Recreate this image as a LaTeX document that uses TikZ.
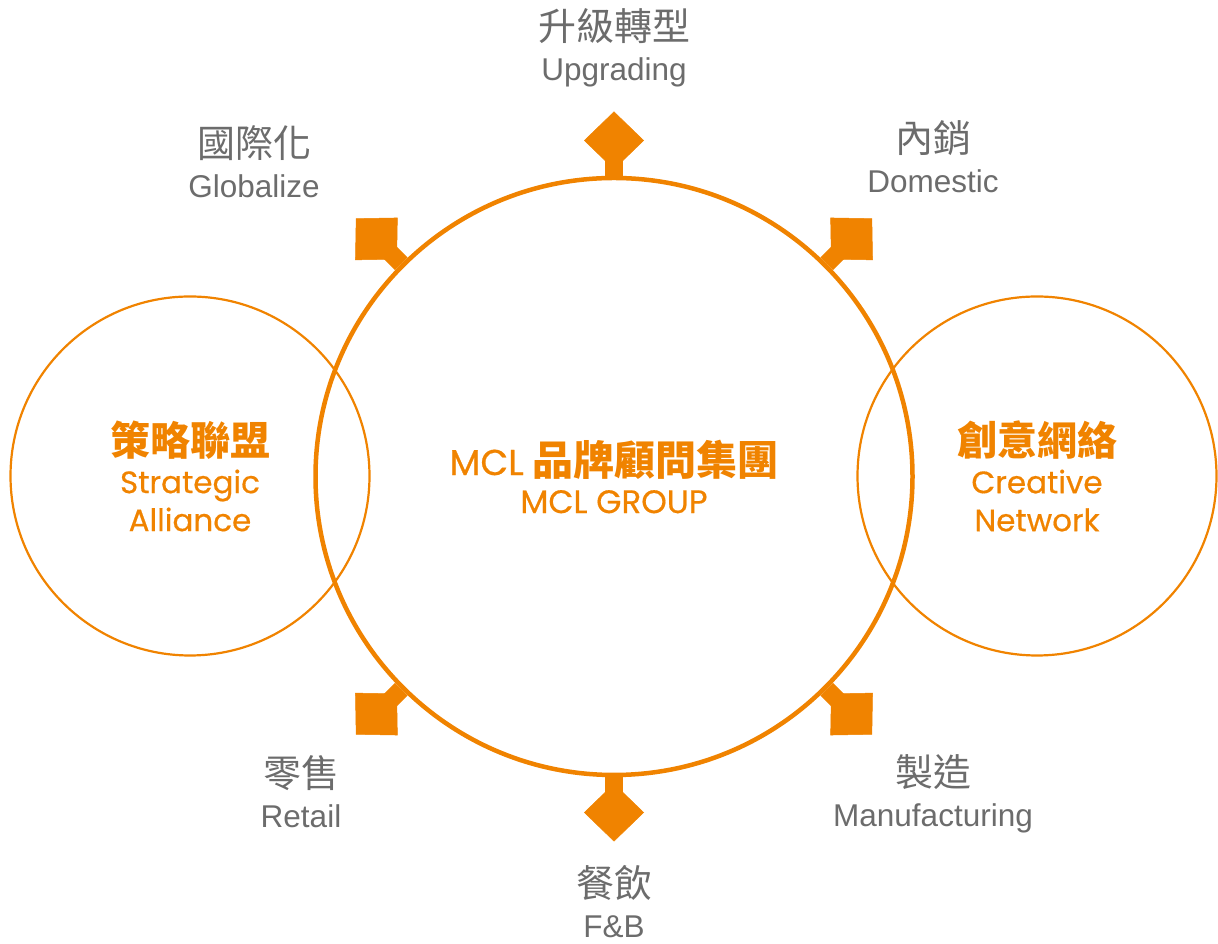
\documentclass[tikz,border=0pt]{standalone}
\usepackage{fontspec}
\setmainfont{Liberation Sans}
\newfontfamily\cjk{Noto Sans CJK TC}
\newfontfamily\geo{Poppins}[FakeBold=0.5]
\usepackage{tikz}
\usetikzlibrary{arrows.meta,positioning,calc}
\definecolor{mclorange}{RGB}{240,131,0}
\definecolor{mclgray}{RGB}{108,108,108}
\tikzstyle{hub}=[circle,draw=mclorange,line width=4.5pt,minimum size=597pt,inner sep=0pt,align=center,text=mclorange,font=\geo\fontsize{32.5}{38}\selectfont]
\tikzstyle{wing}=[circle,draw=mclorange,line width=2.2pt,minimum size=359pt,inner sep=0pt,align=center,text=mclorange,font=\geo\fontsize{31}{38}\selectfont]
\tikzstyle{shaft}=[draw=mclorange,line width=18pt,shorten >=30pt]
\tikzstyle{spoke}=[draw=mclorange,fill=mclorange,line width=0.5pt,-{Kite[length=58pt,width=60pt,inset=29pt]}]
\tikzstyle{market}=[align=center,text=mclgray,font=\fontsize{31.5}{40}\selectfont]
\newcommand{\zh}[1]{{\cjk\fontsize{38}{40}\selectfont #1}}
\newcommand{\zhb}[1]{{\cjk\bfseries\fontsize{40}{40}\selectfont #1}}

\begin{document}
\begin{tikzpicture}[x=1pt,y=1pt]
\useasboundingbox (0,0) rectangle (1218,944);
\node [hub] (mcl) at (614,467.5) {{\fontsize{36}{40}\selectfont MCL} {\cjk\bfseries\fontsize{41}{40}\selectfont 品牌顧問集團}\\MCL GROUP};
\node [wing] (alliance) at (190,468) {\zhb{策略聯盟}\\Strategic\\Alliance};
\node [wing] (network) at (1037,468) {\zhb{創意網絡}\\Creative\\Network};

\foreach \a/\n in {90/up,45/dom,135/glob,225/ret,270/fb,315/man}{
  \coordinate (\n) at ($(mcl.center)+(\a:365)$);
  \draw [shaft] (mcl.\a) -- (\n);
  \draw [spoke] (mcl.\a) -- (\n);
}

\node [market] (upgrading) at (614,896) {\zh{升級轉型}\\Upgrading};
\node [market] (globalize) at (254,782) {\zh{國際化}\\Globalize};
\node [market] (domestic) at (933,787) {\zh{內銷}\\Domestic};
\node [market] (retail) at (301,152) {\zh{零售}\\Retail};
\node [market] (manufacturing) at (933,150) {\zh{製造}\\Manufacturing};
\node [market] (fandb) at (614,42) {\zh{餐飲}\\F\&B};
\end{tikzpicture}
\end{document}
